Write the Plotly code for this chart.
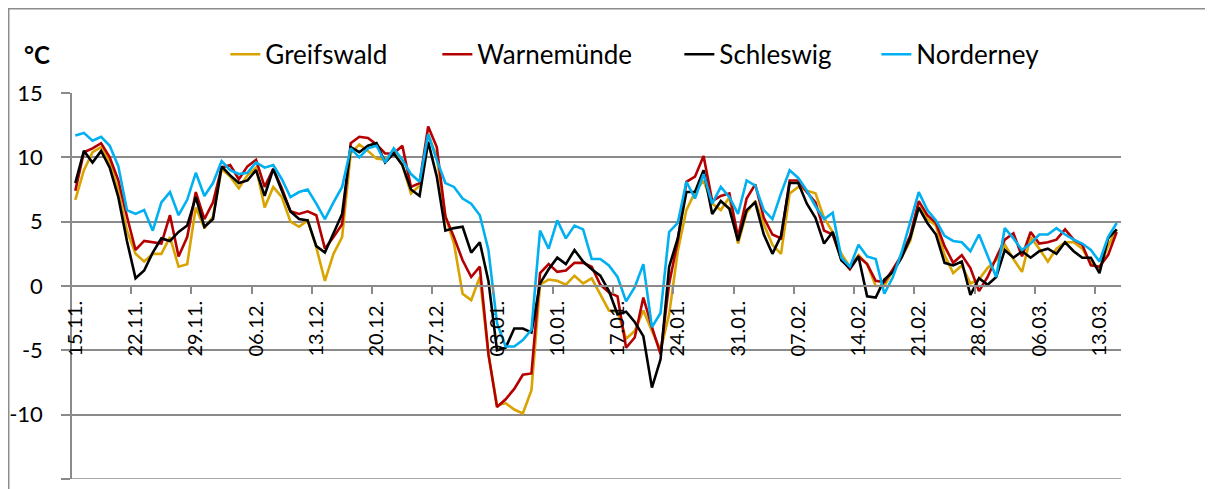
import plotly.graph_objects as go

# daily mean temperatures, 15.11. - 15.03. (122 days)
greifswald = [6.7, 9.0, 10.4, 10.8, 9.6, 7.4, 4.3, 2.5, 1.9, 2.5, 2.5, 3.8, 1.5, 1.7, 6.1, 4.5, 5.4, 9.1, 8.5, 7.6,
              8.6, 9.2, 6.1, 7.7, 6.9, 5.0, 4.6, 5.1, 3.0, 0.4, 2.5, 3.8, 10.3, 11.0, 10.5, 9.9, 9.8, 10.5, 9.4, 7.2,
              7.8, 11.8, 10.0, 5.4, 3.3, -0.6, -1.1, 0.7, -5.3, -9.3, -9.1, -9.6, -9.9, -8.1, 0.1, 0.5, 0.4, 0.1, 0.8, 0.2,
              0.6, -0.6, -1.9, -2.0, -4.1, -3.5, -1.9, -3.5, -5.0, -2.2, 2.7, 5.9, 7.3, 8.2, 6.4, 5.9, 6.9, 3.3, 5.7, 6.6,
              4.8, 3.2, 2.5, 7.2, 7.7, 7.4, 7.2, 5.3, 4.2, 2.5, 1.5, 2.4, 1.7, 0.0, 0.0, 1.2, 2.2, 3.5, 6.2, 5.2,
              4.7, 2.4, 1.0, 1.6, 0.2, 0.5, 1.4, 2.0, 3.2, 2.1, 1.1, 3.8, 2.9, 1.9, 2.9, 3.4, 3.4, 2.9, 1.8, 1.4,
              3.1, 4.4]
warnemuende = [7.4, 10.4, 10.7, 11.1, 10.0, 8.2, 5.4, 2.8, 3.5, 3.4, 3.3, 5.5, 2.3, 3.8, 7.3, 5.2, 6.5, 9.2, 9.4, 8.3,
               9.3, 9.8, 7.7, 9.1, 7.6, 5.8, 5.6, 5.8, 5.5, 2.9, 3.8, 4.8, 11.1, 11.6, 11.5, 11.0, 10.3, 10.3, 10.9, 7.7,
               8.0, 12.4, 10.8, 5.4, 3.8, 2.0, 0.7, 1.5, -5.3, -9.4, -8.8, -8.0, -6.9, -6.8, 1.0, 1.7, 1.1, 1.2, 1.8, 1.8,
               1.5, 0.1, -0.5, -0.8, -4.8, -4.0, -0.9, -3.2, -5.3, 0.2, 3.5, 8.1, 8.5, 10.1, 6.6, 7.0, 7.2, 3.8, 6.8, 7.9,
               5.3, 4.0, 3.7, 8.2, 8.2, 7.3, 6.5, 4.3, 4.0, 2.1, 1.3, 2.3, 1.7, 0.4, 0.3, 1.3, 2.4, 3.9, 6.6, 5.5,
               4.9, 3.1, 1.8, 2.4, 1.4, -0.4, 0.7, 2.2, 3.6, 4.1, 2.3, 4.2, 3.3, 3.4, 3.6, 4.4, 3.6, 3.2, 1.6, 1.5,
               2.4, 4.2]
schleswig = [8.0, 10.5, 9.6, 10.5, 9.2, 6.9, 3.5, 0.6, 1.2, 2.6, 3.7, 3.5, 4.2, 4.7, 6.9, 4.6, 5.2, 9.3, 8.6, 8.0,
             8.2, 9.0, 7.0, 9.1, 7.4, 5.8, 5.2, 5.1, 3.1, 2.6, 4.1, 5.6, 10.8, 10.4, 10.9, 11.1, 9.6, 10.3, 9.4, 7.5,
             7.0, 11.2, 8.5, 4.3, 4.5, 4.6, 2.6, 3.4, 0.4, -5.0, -4.8, -3.3, -3.3, -3.6, 0.2, 1.3, 2.2, 1.7, 2.8, 1.9,
             1.3, 0.8, -0.4, -2.2, -2.0, -2.8, -3.9, -7.9, -5.7, 1.5, 3.7, 7.3, 7.3, 9.0, 5.6, 6.6, 6.0, 3.5, 5.9, 6.5,
             4.0, 2.5, 3.9, 8.0, 8.0, 6.4, 5.3, 3.3, 4.2, 2.0, 1.4, 2.3, -0.8, -0.9, 0.5, 1.1, 2.2, 3.7, 6.1, 4.9,
             4.0, 1.8, 1.6, 1.9, -0.7, 0.6, 0.1, 0.7, 2.8, 2.2, 2.7, 2.2, 2.7, 2.9, 2.5, 3.4, 2.7, 2.2, 2.2, 1.0,
             3.7, 4.4]
norderney = [11.7, 11.9, 11.3, 11.6, 10.9, 9.3, 5.9, 5.6, 5.9, 4.3, 6.5, 7.3, 5.5, 6.7, 8.8, 7.0, 8.0, 9.7, 9.0, 8.7,
             8.8, 9.6, 9.2, 9.4, 8.3, 6.9, 7.3, 7.5, 6.4, 5.2, 6.5, 7.7, 10.7, 10.0, 10.7, 10.9, 9.6, 10.7, 9.8, 8.7,
             8.1, 11.8, 9.8, 8.0, 7.7, 6.8, 6.4, 5.5, 2.8, -2.9, -4.7, -4.7, -4.2, -3.4, 4.3, 2.9, 5.1, 3.7, 4.7, 4.4,
             2.1, 2.1, 1.6, 0.7, -1.2, -0.1, 1.7, -3.2, -2.1, 4.2, 4.9, 8.1, 6.8, 8.7, 6.4, 7.7, 6.9, 5.6, 8.2, 7.8,
             5.9, 5.2, 7.2, 9.0, 8.4, 7.4, 6.2, 5.2, 5.7, 2.2, 1.5, 3.2, 2.3, 2.1, -0.6, 0.7, 2.6, 4.9, 7.3, 5.9,
             5.1, 3.9, 3.5, 3.4, 2.7, 4.0, 2.4, 0.7, 4.5, 3.7, 2.8, 3.3, 4.0, 4.0, 4.5, 4.0, 3.6, 3.3, 2.8, 1.9,
             3.8, 4.9]

tick_labels = ["15.11.", "22.11.", "29.11.", "06.12.", "13.12.", "20.12.", "27.12.", "03.01.", "10.01.",
               "17.01.", "24.01.", "31.01.", "07.02.", "14.02.", "21.02.", "28.02.", "06.03.", "13.03."]
y_ticks = [-15, -10, -5, 0, 5, 10, 15]
y_tick_labels = ["-15", "-10", "-5", "0", "5", "10", "15"]

series = [
    ("Greifswald", greifswald, "#D9A300", 167),
    ("Warnemünde", warnemuende, "#B40000", 197),
    ("Schleswig", schleswig, "#000000", 152),
    ("Norderney", norderney, "#00B0F0", 130),
]

days = list(range(len(greifswald)))
label_pos = days[::7]
boundaries = [d - 0.5 for d in label_pos[1:]]

FONT = "Lato"
GRID = "#8A8A8A"

fig = go.Figure()
for name, vals, color, lw in series:
    fig.add_trace(go.Scatter(x=days, y=vals, name=name, mode="lines", legendwidth=lw,
                             line=dict(color=color, width=2.6)))

# the page body has an 8px margin, the figure sits inside it
fig.update_layout(
    width=1197, height=481,
    margin=dict(l=63, r=84, t=85, b=10),
    paper_bgcolor="white", plot_bgcolor="white",
    font=dict(family=FONT, size=20, color="black"),
    showlegend=True,
    legend=dict(orientation="h", x=0.147, xanchor="left", y=1.1, yanchor="middle",
                font=dict(family=FONT, size=26), tracegroupgap=0),
    xaxis=dict(
        range=[-0.5, len(days) - 0.5], anchor="free", position=0.5, automargin=False,
        tickmode="array", tickvals=label_pos, ticktext=tick_labels, tickangle=-90,
        ticks="", showgrid=False, zeroline=False,
        showline=True, linecolor=GRID, linewidth=1.5,
        ticklabelstandoff=6,
        tickfont=dict(family=FONT, size=20),
        minor=dict(tickmode="array", tickvals=boundaries, ticks="outside",
                   ticklen=7, tickwidth=1.5, tickcolor=GRID, showgrid=False),
    ),
    yaxis=dict(
        range=[-15, 15], tickmode="array", tickvals=y_ticks, ticktext=y_tick_labels,
        anchor="free", position=0, automargin=False,
        showgrid=True, gridcolor=GRID, gridwidth=1.5, zeroline=False,
        showline=True, linecolor=GRID, linewidth=1.5,
        ticks="outside", ticklen=9, tickwidth=1.5, tickcolor=GRID,
        ticklabelstandoff=14,
        tickfont=dict(family=FONT, size=22),
    ),
    annotations=[dict(text="<b>°C</b>", xref="paper", yref="paper", x=-0.0465, y=1.1,
                      xanchor="left", yanchor="middle", showarrow=False,
                      font=dict(family=FONT, size=24, color="black"))],
    shapes=[
        dict(type="rect", xref="paper", yref="paper", x0=-0.0593, x1=1.4, y0=-0.5, y1=1.218,
             line=dict(color="#8C8C8C", width=1.5), fillcolor="rgba(0,0,0,0)", layer="below"),
        # bottom frame of the plot area at the lowest y tick
        dict(type="line", xref="paper", yref="y", x0=0, x1=1, y0=y_ticks[0], y1=y_ticks[0],
             line=dict(color=GRID, width=1.5), layer="below"),
    ],
)

fig.write_html("out.html")
